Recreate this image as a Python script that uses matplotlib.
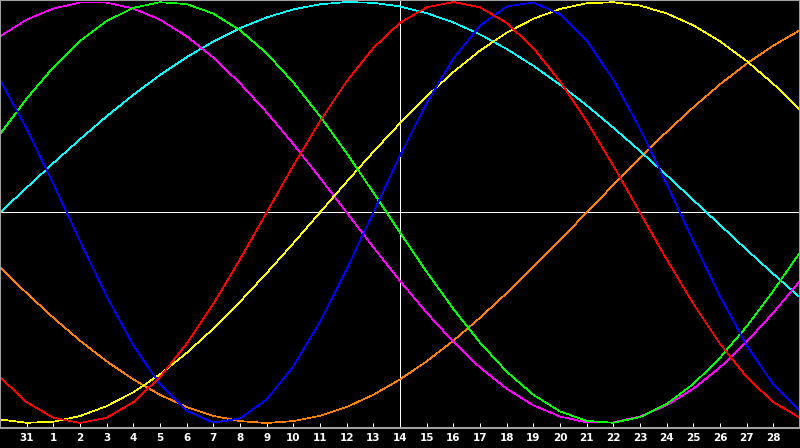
import numpy as np
import matplotlib
matplotlib.use("Agg")
import matplotlib.pyplot as plt

# day positions (0 = the 31st of last month), one sample per day
days = list(range(-1, 30))
tick_days = list(range(0, 29))
tick_labels = ["31"] + [str(d) for d in range(1, 29)]
today = 14

red = [-0.782, -0.901, -0.975, -1.000, -0.975, -0.901, -0.782, -0.623, -0.434, -0.223, 0.000, 0.223, 0.434, 0.623, 0.782, 0.901, 0.975, 1.000, 0.975, 0.901, 0.782, 0.623, 0.434, 0.223, 0.000, -0.223, -0.434, -0.623, -0.782, -0.901, -0.975]
blue = [0.631, 0.398, 0.136, -0.136, -0.398, -0.631, -0.817, -0.942, -0.998, -0.979, -0.888, -0.731, -0.520, -0.270, 0.000, 0.270, 0.520, 0.731, 0.888, 0.979, 0.998, 0.942, 0.817, 0.631, 0.398, 0.136, -0.136, -0.398, -0.631, -0.817, -0.942]
green = [0.372, 0.541, 0.690, 0.815, 0.910, 0.972, 0.999, 0.990, 0.945, 0.866, 0.756, 0.618, 0.458, 0.282, 0.095, -0.095, -0.282, -0.458, -0.618, -0.756, -0.866, -0.945, -0.990, -0.999, -0.972, -0.910, -0.815, -0.690, -0.541, -0.372, -0.189]
yellow = [-0.983, -0.999, -0.994, -0.967, -0.920, -0.854, -0.769, -0.667, -0.552, -0.424, -0.288, -0.146, 0.000, 0.146, 0.288, 0.424, 0.552, 0.667, 0.769, 0.854, 0.920, 0.967, 0.994, 0.999, 0.983, 0.946, 0.889, 0.813, 0.720, 0.611, 0.489]
magenta = [0.837, 0.916, 0.969, 0.997, 0.997, 0.969, 0.916, 0.837, 0.736, 0.614, 0.476, 0.325, 0.165, 0.000, -0.165, -0.325, -0.476, -0.614, -0.736, -0.837, -0.916, -0.969, -0.997, -0.997, -0.969, -0.916, -0.837, -0.736, -0.614, -0.476, -0.325]
cyan = [0.000, 0.118, 0.235, 0.348, 0.457, 0.559, 0.653, 0.738, 0.812, 0.876, 0.927, 0.965, 0.989, 1.000, 0.996, 0.979, 0.947, 0.903, 0.846, 0.777, 0.697, 0.607, 0.509, 0.403, 0.292, 0.177, 0.059, -0.059, -0.177, -0.292, -0.403]
orange = [-0.259, -0.383, -0.500, -0.609, -0.707, -0.793, -0.866, -0.924, -0.966, -0.991, -1.000, -0.991, -0.966, -0.924, -0.866, -0.793, -0.707, -0.609, -0.500, -0.383, -0.259, -0.131, 0.000, 0.131, 0.259, 0.383, 0.500, 0.609, 0.707, 0.793, 0.866]

series = [
    (orange, "#ff8000"),
    (cyan, "#00ffff"),
    (magenta, "#ff00ff"),
    (yellow, "#ffff00"),
    (green, "#00ff00"),
    (blue, "#0000ff"),
    (red, "#ff0000"),
]

px = 0.72  # one pixel in points at dpi 100

fig = plt.figure(figsize=(8, 4.48), dpi=100, facecolor="black")
ax = fig.add_axes([0, 20/448, 1, 428/448], facecolor="black")

ax.axhline(0, color="white", lw=px, antialiased=False, zorder=1)
ax.axvline(today, color="white", lw=px, antialiased=False, zorder=1)

for vals, col in series:
    ax.plot(days, vals, color=col, lw=0.5, antialiased=False, zorder=2)

ax.set_xlim(-1, 29)
ax.set_ylim(-1 - 5/210.5, 1 + 2/210.5)

for s in ax.spines.values():
    s.set_color("#a0a0a0")
    s.set_linewidth(1.5)

ax.set_yticks([])
ax.set_xticks(tick_days)
ax.set_xticklabels(tick_labels, color="white", fontsize=7.5,
                   fontweight="bold", family="DejaVu Sans")
ax.tick_params(axis="x", direction="in", length=3.6, width=px,
               color="white", pad=3.5)

fig.savefig("out.png", dpi=100, facecolor="black")
